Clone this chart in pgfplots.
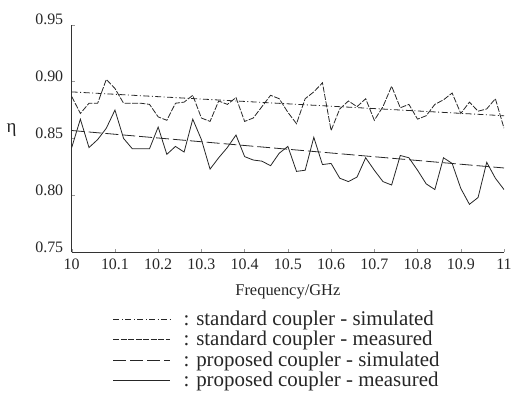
\documentclass[border=0pt]{standalone}
\usepackage{pgfplots}
\pgfplotsset{compat=1.18}
\usepackage{pgfplotstable}
\usepackage{fontspec}
\setmainfont{Liberation Serif}

% measured efficiency, 0.02 GHz steps
\pgfplotstableread{
f stdmeas propmeas
10.00 0.887 0.842
10.02 0.872 0.867
10.04 0.881 0.842
10.06 0.881 0.849
10.08 0.902 0.859
10.10 0.894 0.875
10.12 0.881 0.850
10.14 0.881 0.841
10.16 0.881 0.841
10.18 0.880 0.841
10.20 0.869 0.860
10.22 0.866 0.836
10.24 0.881 0.843
10.26 0.882 0.838
10.28 0.888 0.867
10.30 0.868 0.849
10.32 0.865 0.823
10.34 0.883 0.833
10.36 0.880 0.842
10.38 0.886 0.853
10.40 0.865 0.834
10.42 0.868 0.831
10.44 0.878 0.830
10.46 0.888 0.826
10.48 0.885 0.837
10.50 0.873 0.843
10.52 0.863 0.821
10.54 0.885 0.822
10.56 0.891 0.851
10.58 0.899 0.827
10.60 0.857 0.828
10.62 0.876 0.815
10.64 0.883 0.812
10.66 0.878 0.816
10.68 0.885 0.833
10.70 0.866 0.822
10.72 0.878 0.812
10.74 0.896 0.809
10.76 0.877 0.835
10.78 0.880 0.833
10.80 0.867 0.822
10.82 0.870 0.810
10.84 0.880 0.805
10.86 0.884 0.833
10.88 0.890 0.828
10.90 0.872 0.806
10.92 0.882 0.792
10.94 0.874 0.798
10.96 0.876 0.829
10.98 0.885 0.815
11.00 0.859 0.805
}\meas

\begin{document}
\begin{tikzpicture}
\begin{axis}[
    name=ax,
    scale only axis,
    width=434pt,
    height=228pt,
    xmin=10, xmax=11,
    ymin=0.75, ymax=0.95,
    axis lines*=left,
    axis line style={black!80, line width=0.8pt},
    tick align=inside,
    major tick length=3pt,
    tick style={black!40, line width=0.4pt},
    xtick={10,10.1,...,11.05},
    ytick={0.75,0.80,0.85,0.90,0.95},
    /pgf/number format/assume math mode=true,
    xticklabel style={/pgf/number format/fixed, /pgf/number format/precision=1, yshift=-3pt},
    yticklabel style={/pgf/number format/fixed, /pgf/number format/fixed zerofill,
        /pgf/number format/precision=2, anchor=base east, xshift=-5pt},
    ticklabel style={font=\fontsize{16}{18}\selectfont, text=black!85},
    xlabel={Frequency/GHz},
    xlabel style={font=\fontsize{16.5}{19}\selectfont, text=black!85, yshift=-8pt},
    ylabel={η},
    every axis y label/.style={at={(ticklabel cs:0.535)}, anchor=east, xshift=-12pt,
        font=\fontsize{19}{20}\selectfont, text=black!85},
    legend style={draw=none, fill=none, at={(0.095,-0.25)}, anchor=north west,
        font=\fontsize{21}{22}\selectfont, text=black!85,
        row sep=0.5pt, inner sep=0pt},
    legend cell align=left,
    legend image code/.code={\draw[#1] (0pt,0pt) -- (57pt,0pt); \path (68pt,0pt);},
    every axis plot/.append style={line width=0.8pt, black!85},
]
\addplot[dash pattern=on 6pt off 2.5pt on 1pt off 2.5pt] coordinates {(10,0.891) (11,0.870)};
\addlegendentry{: standard coupler - simulated}
\addplot[dash pattern=on 6pt off 1.5pt] table[x=f, y=stdmeas] {\meas};
\addlegendentry{: standard coupler - measured}
\addplot[dash pattern=on 13pt off 4pt] coordinates {(10,0.857) (11,0.824)};
\addlegendentry{: proposed coupler - simulated}
\addplot[solid] table[x=f, y=propmeas] {\meas};
\addlegendentry{: proposed coupler - measured}
\end{axis}
\path ([shift={(-72pt,-148pt)}]ax.south west) rectangle ([shift={(9pt,25pt)}]ax.north east);
\end{tikzpicture}
\end{document}
